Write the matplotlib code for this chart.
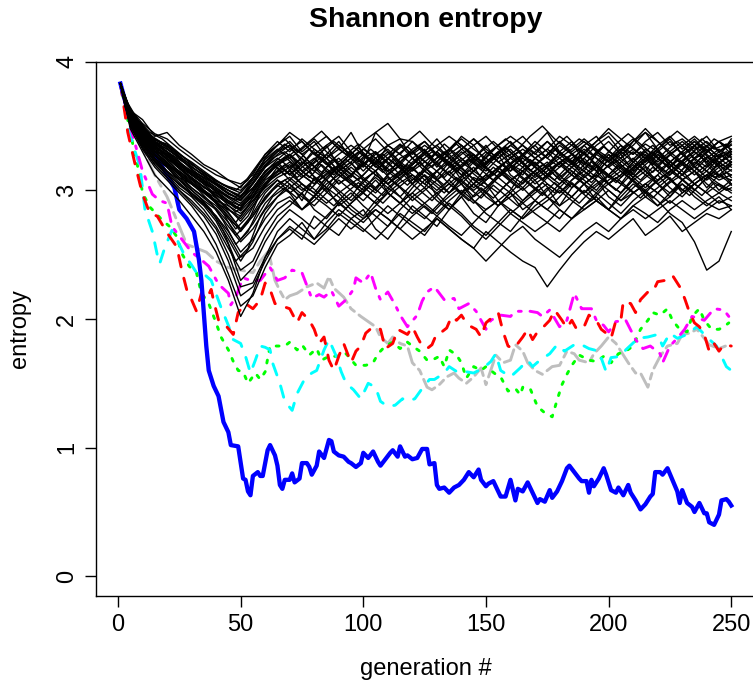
import matplotlib
matplotlib.use("Agg")
import matplotlib.pyplot as plt

plt.rcParams["font.family"] = ["Liberation Sans", "DejaVu Sans"]

gen_grid = [1] + list(range(5, 251, 5))
gen_grid_b = [1, 3] + list(range(8, 249, 5)) + [250]

run_01 = [3.83, 3.58, 3.45, 3.36, 3.30, 3.18, 3.12, 3.05, 3.00, 2.92, 2.85, 2.98, 3.12, 3.20,
          3.28, 3.15, 3.22, 3.35, 3.18, 3.10, 3.25, 3.30, 3.12, 3.20, 3.05, 3.18, 3.30, 3.22, 3.08, 3.15, 3.28, 3.35, 3.20, 3.12,
          3.25, 3.18, 3.30, 3.38, 3.22, 3.15, 3.28, 3.20, 3.12, 3.25, 3.32, 3.18, 3.26, 3.35, 3.20, 3.28, 3.22]
run_02 = [3.83, 3.52, 3.38, 3.25, 3.15, 3.08, 2.98, 2.90, 2.78, 2.62, 2.45, 2.60, 2.82, 2.95,
          3.05, 2.92, 3.10, 3.02, 2.88, 2.95, 3.08, 3.15, 2.98, 2.90, 3.02, 3.12, 2.95, 2.85, 2.98, 3.10, 3.05, 2.92, 3.00, 3.15,
          3.08, 2.95, 2.88, 3.02, 3.12, 3.20, 3.05, 2.98, 3.10, 3.18, 3.05, 2.95, 3.08, 3.15, 3.02, 3.12, 3.08]
run_03 = [3.83, 3.62, 3.55, 3.42, 3.45, 3.35, 3.28, 3.20, 3.15, 3.08, 3.02, 3.15, 3.28, 3.35,
          3.42, 3.30, 3.38, 3.25, 3.32, 3.45, 3.28, 3.20, 3.35, 3.40, 3.25, 3.32, 3.18, 3.30, 3.42, 3.35, 3.22, 3.30, 3.38, 3.28,
          3.35, 3.45, 3.30, 3.22, 3.35, 3.42, 3.30, 3.25, 3.38, 3.45, 3.32, 3.40, 3.28, 3.35, 3.42, 3.30, 3.38]
run_04 = [3.83, 3.48, 3.30, 3.12, 3.02, 2.92, 2.80, 2.68, 2.52, 2.30, 2.02, 2.20, 2.48, 2.62,
          2.70, 2.62, 2.80, 2.72, 2.65, 2.78, 2.85, 2.70, 2.62, 2.75, 2.88, 2.80, 2.72, 2.85, 2.95, 2.82, 2.75, 2.88, 2.98, 2.85,
          2.92, 3.02, 2.88, 2.95, 3.05, 2.92, 2.85, 2.98, 3.08, 2.95, 3.02, 3.10, 2.98, 3.05, 3.12, 3.00, 3.08]
run_05 = [3.83, 3.55, 3.42, 3.30, 3.22, 3.12, 3.05, 2.98, 2.90, 2.85, 2.78, 2.90, 3.05, 3.12,
          3.18, 3.25, 3.10, 3.02, 3.15, 3.22, 3.08, 3.00, 3.12, 3.25, 3.30, 3.18, 3.10, 3.22, 3.15, 3.05, 3.18, 3.28, 3.12, 3.05,
          3.15, 3.22, 3.10, 3.18, 3.30, 3.20, 3.12, 3.05, 3.18, 3.25, 3.15, 3.22, 3.30, 3.18, 3.10, 3.22, 3.28]
run_06 = [3.83, 3.60, 3.48, 3.35, 3.28, 3.20, 3.15, 3.08, 3.02, 2.95, 2.90, 3.00, 3.15, 3.22,
          3.12, 3.20, 3.32, 3.25, 3.15, 3.05, 3.12, 3.22, 3.30, 3.18, 3.10, 3.02, 3.15, 3.25, 3.18, 3.08, 3.02, 3.12, 3.20, 3.28,
          3.18, 3.10, 3.22, 3.15, 3.05, 3.12, 3.25, 3.35, 3.22, 3.15, 3.28, 3.20, 3.12, 3.25, 3.32, 3.22, 3.15]
run_07 = [3.83, 3.50, 3.32, 3.18, 3.08, 2.98, 2.88, 2.75, 2.58, 2.35, 2.10, 2.18, 2.40, 2.58,
          2.65, 2.75, 2.62, 2.70, 2.82, 2.75, 2.68, 2.78, 2.88, 2.80, 2.72, 2.65, 2.78, 2.70, 2.62, 2.55, 2.68, 2.60, 2.52, 2.45,
          2.40, 2.25, 2.38, 2.50, 2.60, 2.68, 2.62, 2.70, 2.78, 2.65, 2.72, 2.80, 2.68, 2.75, 2.82, 2.78, 2.85]
run_08 = [3.83, 3.58, 3.46, 3.38, 3.32, 3.25, 3.18, 3.12, 3.05, 3.00, 2.95, 3.08, 3.22, 3.30,
          3.35, 3.22, 3.15, 3.28, 3.38, 3.25, 3.18, 3.30, 3.22, 3.12, 3.20, 3.30, 3.40, 3.28, 3.18, 3.25, 3.35, 3.22, 3.15, 3.28,
          3.38, 3.30, 3.20, 3.12, 3.25, 3.35, 3.42, 3.30, 3.22, 3.32, 3.25, 3.18, 3.30, 3.38, 3.28, 3.20, 3.32]
run_09 = [3.83, 3.54, 3.40, 3.28, 3.20, 3.15, 3.08, 3.00, 2.92, 2.82, 2.70, 2.82, 2.98, 3.08,
          2.98, 2.85, 2.95, 3.08, 2.98, 2.88, 2.80, 2.92, 3.02, 2.95, 2.85, 2.78, 2.88, 2.98, 3.05, 2.92, 2.82, 2.75, 2.68, 2.80,
          2.92, 2.85, 2.78, 2.90, 3.00, 2.92, 2.85, 2.95, 3.05, 2.98, 2.88, 2.95, 3.05, 2.98, 2.90, 2.85, 2.88]
run_10 = [3.83, 3.62, 3.50, 3.40, 3.35, 3.28, 3.22, 3.15, 3.08, 3.02, 2.98, 3.10, 3.25, 3.35,
          3.45, 3.38, 3.28, 3.35, 3.42, 3.30, 3.22, 3.45, 3.52, 3.40, 3.38, 3.28, 3.35, 3.25, 3.32, 3.40, 3.30, 3.22, 3.28, 3.35,
          3.25, 3.32, 3.42, 3.35, 3.28, 3.38, 3.48, 3.40, 3.32, 3.25, 3.35, 3.42, 3.32, 3.40, 3.30, 3.38, 3.42]
run_11 = [3.83, 3.52, 3.36, 3.22, 3.12, 3.02, 2.95, 2.85, 2.72, 2.55, 2.38, 2.45, 2.65, 2.80,
          2.88, 2.98, 2.85, 2.78, 2.90, 2.98, 2.88, 2.80, 2.72, 2.85, 2.95, 3.02, 2.92, 2.85, 2.95, 3.05, 2.98, 2.88, 2.95, 3.02,
          2.92, 2.85, 2.95, 3.05, 2.98, 3.08, 2.95, 2.88, 2.98, 3.05, 3.12, 3.02, 2.95, 3.05, 3.12, 3.05, 2.98]
run_12 = [3.83, 3.56, 3.44, 3.32, 3.25, 3.18, 3.10, 3.02, 2.98, 2.92, 2.88, 2.95, 3.08, 3.15,
          3.22, 3.12, 3.05, 3.18, 3.25, 3.15, 3.08, 3.15, 3.25, 3.18, 3.08, 3.15, 3.22, 3.12, 3.20, 3.28, 3.18, 3.10, 3.20, 3.15,
          3.05, 3.12, 3.22, 3.28, 3.18, 3.10, 3.20, 3.28, 3.15, 3.22, 3.30, 3.20, 3.12, 3.22, 3.15, 3.25, 3.18]
run_13 = [3.83, 3.60, 3.42, 3.30, 3.28, 3.22, 3.12, 3.05, 2.95, 2.85, 2.80, 2.92, 3.02, 3.10,
          3.15, 3.05, 2.98, 3.10, 3.18, 3.08, 3.00, 3.12, 3.05, 2.95, 3.05, 3.15, 3.08, 2.98, 3.10, 3.18, 3.05, 2.98, 3.08, 3.15,
          3.22, 3.12, 3.05, 3.15, 3.08, 3.00, 3.12, 3.20, 3.10, 3.02, 3.12, 3.22, 3.15, 3.05, 3.12, 3.20, 3.10]
run_14 = [3.83, 3.57, 3.48, 3.38, 3.30, 3.22, 3.15, 3.10, 3.05, 2.98, 2.92, 3.05, 3.18, 3.28,
          3.35, 3.28, 3.18, 3.25, 3.15, 3.22, 3.32, 3.25, 3.15, 3.22, 3.32, 3.38, 3.28, 3.20, 3.30, 3.22, 3.15, 3.25, 3.32, 3.22,
          3.12, 3.20, 3.30, 3.22, 3.15, 3.28, 3.22, 3.32, 3.40, 3.30, 3.22, 3.30, 3.22, 3.15, 3.25, 3.32, 3.25]
run_15 = [3.83, 3.50, 3.34, 3.20, 3.10, 3.00, 2.92, 2.82, 2.70, 2.50, 2.25, 2.28, 2.48, 2.68,
          2.78, 2.70, 2.62, 2.75, 2.85, 2.78, 2.70, 2.62, 2.72, 2.82, 2.75, 2.68, 2.80, 2.90, 2.82, 2.72, 2.65, 2.75, 2.85, 2.78,
          2.88, 2.95, 2.85, 2.78, 2.88, 2.98, 2.90, 2.82, 2.92, 3.00, 2.92, 2.82, 2.75, 2.60, 2.38, 2.45, 2.68]
run_16 = [3.83, 3.55, 3.40, 3.30, 3.20, 3.10, 3.05, 2.98, 2.92, 2.88, 2.82, 2.92, 3.05, 3.18,
          3.08, 3.18, 3.25, 3.15, 3.05, 3.12, 3.22, 3.15, 3.05, 3.12, 3.22, 3.30, 3.20, 3.12, 3.05, 3.15, 3.25, 3.18, 3.08, 3.15,
          3.25, 3.18, 3.08, 3.18, 3.25, 3.15, 3.05, 3.12, 3.22, 3.30, 3.20, 3.12, 3.22, 3.30, 3.22, 3.12, 3.20]
run_17 = [3.83, 3.63, 3.52, 3.44, 3.40, 3.32, 3.25, 3.18, 3.12, 3.08, 3.05, 3.12, 3.28, 3.38,
          3.30, 3.40, 3.32, 3.25, 3.35, 3.28, 3.38, 3.45, 3.35, 3.28, 3.38, 3.30, 3.22, 3.32, 3.40, 3.32, 3.25, 3.35, 3.42, 3.35,
          3.28, 3.38, 3.30, 3.22, 3.30, 3.38, 3.45, 3.35, 3.28, 3.38, 3.45, 3.35, 3.40, 3.32, 3.38, 3.30, 3.36]
run_18 = [3.83, 3.53, 3.38, 3.25, 3.18, 3.08, 3.00, 2.92, 2.85, 2.72, 2.60, 2.70, 2.85, 2.95,
          3.02, 2.95, 2.88, 2.98, 3.08, 3.00, 2.92, 3.02, 3.10, 3.02, 2.92, 3.00, 3.08, 3.15, 3.05, 2.95, 3.02, 3.10, 3.02, 2.92,
          3.00, 3.10, 3.02, 2.95, 3.05, 3.12, 3.05, 2.98, 3.08, 3.15, 3.05, 2.98, 3.08, 3.15, 3.05, 2.98, 3.05]
run_19 = [3.83, 3.58, 3.44, 3.34, 3.26, 3.20, 3.12, 3.06, 3.00, 2.95, 2.92, 3.02, 3.15, 3.22,
          3.28, 3.20, 3.30, 3.22, 3.12, 3.20, 3.28, 3.18, 3.25, 3.35, 3.25, 3.18, 3.25, 3.32, 3.22, 3.15, 3.22, 3.30, 3.20, 3.28,
          3.35, 3.25, 3.18, 3.28, 3.35, 3.25, 3.18, 3.25, 3.32, 3.25, 3.18, 3.28, 3.35, 3.25, 3.18, 3.26, 3.30]
run_20 = [3.83, 3.50, 3.35, 3.22, 3.12, 3.05, 2.98, 2.90, 2.80, 2.68, 2.52, 2.62, 2.78, 2.90,
          2.95, 2.85, 2.92, 3.02, 2.95, 2.85, 2.78, 2.88, 2.98, 2.90, 2.82, 2.90, 2.98, 2.88, 2.80, 2.70, 2.62, 2.72, 2.82, 2.90,
          2.82, 2.75, 2.68, 2.78, 2.88, 2.95, 2.85, 2.78, 2.88, 2.95, 2.88, 2.98, 3.05, 2.95, 2.88, 2.95, 2.85]
run_21 = [3.83, 3.59, 3.46, 3.36, 3.30, 3.24, 3.18, 3.12, 3.05, 3.00, 2.96, 3.05, 3.18, 3.25,
          3.18, 3.10, 3.18, 3.28, 3.20, 3.12, 3.20, 3.12, 3.05, 3.15, 3.25, 3.15, 3.08, 3.18, 3.25, 3.15, 3.08, 3.18, 3.25, 3.18,
          3.10, 3.18, 3.25, 3.18, 3.10, 3.18, 3.28, 3.18, 3.10, 3.20, 3.28, 3.20, 3.12, 3.18, 3.26, 3.18, 3.24]
run_22 = [3.83, 3.56, 3.40, 3.28, 3.20, 3.12, 3.02, 2.95, 2.88, 2.78, 2.70, 2.80, 2.95, 3.05,
          3.10, 3.02, 2.95, 3.05, 3.12, 3.05, 2.98, 3.08, 2.98, 2.90, 2.98, 3.08, 3.15, 3.05, 2.98, 3.05, 2.95, 2.88, 2.98, 3.08,
          3.15, 3.05, 2.98, 3.08, 3.15, 3.08, 3.00, 2.92, 3.02, 3.10, 3.18, 3.08, 3.00, 3.08, 3.15, 3.08, 3.12]
run_23 = [3.83, 3.61, 3.50, 3.38, 3.34, 3.26, 3.20, 3.14, 3.06, 3.00, 2.94, 3.06, 3.20, 3.30,
          3.38, 3.28, 3.35, 3.42, 3.32, 3.25, 3.32, 3.40, 3.30, 3.22, 3.30, 3.38, 3.28, 3.22, 3.32, 3.40, 3.32, 3.25, 3.35, 3.42,
          3.32, 3.25, 3.35, 3.28, 3.20, 3.30, 3.38, 3.28, 3.35, 3.45, 3.38, 3.28, 3.35, 3.42, 3.34, 3.26, 3.40]
run_24 = [3.83, 3.52, 3.37, 3.24, 3.15, 3.06, 2.96, 2.88, 2.76, 2.58, 2.30, 2.40, 2.60, 2.75,
          2.85, 2.78, 2.70, 2.80, 2.90, 2.82, 2.75, 2.85, 2.78, 2.70, 2.80, 2.88, 2.80, 2.72, 2.65, 2.75, 2.85, 2.92, 2.82, 2.75,
          2.68, 2.75, 2.85, 2.78, 2.85, 2.92, 2.85, 2.78, 2.88, 2.82, 2.75, 2.85, 2.92, 2.85, 2.92, 2.98, 2.92]
run_25 = [3.83, 3.57, 3.43, 3.33, 3.27, 3.17, 3.09, 3.03, 2.96, 2.90, 2.86, 2.96, 3.10, 3.20,
          3.25, 3.15, 3.08, 3.00, 3.10, 3.18, 3.10, 3.02, 3.12, 3.20, 3.12, 3.05, 3.15, 3.22, 3.12, 3.02, 3.10, 3.18, 3.10, 3.02,
          3.12, 3.20, 3.12, 3.02, 3.10, 3.18, 3.10, 3.18, 3.25, 3.15, 3.08, 3.15, 3.22, 3.15, 3.08, 3.15, 3.22]
run_26 = [3.83, 3.55, 3.41, 3.31, 3.24, 3.14, 3.06, 3.00, 2.94, 2.86, 2.76, 2.88, 3.00, 3.08,
          3.02, 3.10, 3.18, 3.08, 3.00, 2.92, 3.02, 3.10, 3.02, 3.10, 3.18, 3.08, 3.00, 3.08, 2.98, 2.90, 3.00, 3.10, 3.18, 3.10,
          3.02, 2.95, 3.05, 3.12, 3.05, 2.98, 3.08, 3.15, 3.08, 3.00, 3.08, 3.15, 3.08, 3.00, 3.10, 3.18, 3.05]
run_27 = [3.83, 3.60, 3.47, 3.37, 3.32, 3.26, 3.16, 3.10, 3.04, 2.97, 2.93, 3.02, 3.14, 3.24,
          3.32, 3.38, 3.28, 3.20, 3.28, 3.35, 3.28, 3.20, 3.28, 3.36, 3.28, 3.35, 3.28, 3.20, 3.28, 3.35, 3.42, 3.32, 3.25, 3.32,
          3.25, 3.32, 3.25, 3.32, 3.40, 3.32, 3.25, 3.32, 3.28, 3.36, 3.30, 3.22, 3.30, 3.38, 3.30, 3.38, 3.32]
run_28 = [3.83, 3.51, 3.33, 3.20, 3.10, 3.00, 2.90, 2.80, 2.66, 2.45, 2.18, 2.25, 2.45, 2.62,
          2.72, 2.65, 2.58, 2.68, 2.78, 2.70, 2.78, 2.85, 2.78, 2.70, 2.62, 2.70, 2.78, 2.70, 2.62, 2.55, 2.45, 2.55, 2.65, 2.72,
          2.62, 2.55, 2.48, 2.58, 2.68, 2.75, 2.68, 2.78, 2.85, 2.78, 2.85, 2.92, 2.85, 2.78, 2.85, 2.92, 2.88]
run_29 = [3.83, 3.58, 3.45, 3.35, 3.27, 3.19, 3.13, 3.07, 3.01, 2.94, 2.88, 2.98, 3.12, 3.20,
          3.12, 3.22, 3.15, 3.08, 3.18, 3.25, 3.15, 3.25, 3.32, 3.22, 3.15, 3.22, 3.30, 3.20, 3.12, 3.22, 3.30, 3.22, 3.15, 3.22,
          3.30, 3.38, 3.28, 3.20, 3.28, 3.20, 3.12, 3.22, 3.30, 3.22, 3.30, 3.38, 3.28, 3.20, 3.30, 3.38, 3.28]
run_30 = [3.83, 3.54, 3.39, 3.27, 3.19, 3.10, 3.02, 2.94, 2.86, 2.75, 2.62, 2.74, 2.90, 3.00,
          3.08, 3.00, 3.08, 3.15, 3.05, 3.12, 3.05, 2.98, 3.08, 3.15, 3.05, 3.12, 3.05, 2.98, 3.08, 3.00, 3.08, 3.15, 3.08, 3.00,
          3.08, 3.15, 3.22, 3.12, 3.05, 3.12, 3.05, 3.12, 3.20, 3.12, 3.05, 3.12, 3.20, 3.12, 3.20, 3.10, 3.16]
run_31 = [3.83, 3.62, 3.49, 3.39, 3.36, 3.28, 3.21, 3.13, 3.07, 3.03, 3.00, 3.10, 3.24, 3.32,
          3.25, 3.32, 3.40, 3.30, 3.22, 3.30, 3.20, 3.28, 3.35, 3.28, 3.20, 3.28, 3.35, 3.42, 3.35, 3.28, 3.20, 3.28, 3.35, 3.28,
          3.20, 3.28, 3.38, 3.30, 3.38, 3.30, 3.22, 3.30, 3.38, 3.48, 3.38, 3.30, 3.38, 3.30, 3.22, 3.30, 3.35]
run_32 = [3.83, 3.53, 3.36, 3.23, 3.14, 3.04, 2.97, 2.89, 2.80, 2.65, 2.48, 2.55, 2.72, 2.85,
          2.92, 2.85, 2.95, 2.88, 2.80, 2.90, 2.98, 2.90, 2.82, 2.90, 2.98, 2.90, 2.82, 2.92, 3.00, 2.92, 2.85, 2.92, 2.85, 2.78,
          2.85, 2.92, 3.00, 2.92, 2.85, 2.92, 3.00, 2.92, 2.98, 3.05, 2.98, 2.90, 2.98, 3.05, 2.98, 2.90, 2.95]
run_33 = [3.83, 3.57, 3.44, 3.34, 3.28, 3.20, 3.14, 3.08, 2.99, 2.91, 2.84, 2.94, 3.06, 3.14,
          3.20, 3.12, 3.05, 3.12, 3.20, 3.28, 3.20, 3.12, 3.05, 3.12, 3.20, 3.28, 3.20, 3.28, 3.35, 3.25, 3.18, 3.10, 3.18, 3.25,
          3.18, 3.10, 3.18, 3.25, 3.32, 3.25, 3.18, 3.10, 3.18, 3.28, 3.20, 3.28, 3.20, 3.28, 3.35, 3.25, 3.30]
run_34 = [3.83, 3.55, 3.42, 3.30, 3.22, 3.13, 3.05, 2.99, 2.91, 2.80, 2.68, 2.80, 2.94, 3.04,
          2.98, 3.05, 2.98, 2.90, 2.98, 3.05, 2.98, 2.90, 2.98, 3.06, 3.12, 3.05, 2.98, 3.05, 2.98, 3.05, 3.12, 3.05, 2.98, 2.90,
          2.98, 3.05, 2.98, 3.06, 2.98, 3.05, 3.12, 3.05, 2.98, 3.05, 2.98, 3.06, 3.12, 3.05, 2.98, 3.05, 3.00]

# runs read on the offset grid (gen_grid_b)
run_b01 = [3.83, 3.66, 3.47, 3.35, 3.28, 3.20, 3.12, 3.04, 2.95, 2.82, 2.65, 2.75, 2.98, 3.12,
           3.20, 3.10, 3.18, 3.26, 3.15, 3.08, 3.18, 3.25, 3.15, 3.05, 3.14, 3.22, 3.12, 3.04, 3.15, 3.24, 3.16, 3.08, 3.18, 3.26,
           3.16, 3.08, 3.18, 3.25, 3.15, 3.06, 3.16, 3.24, 3.14, 3.22, 3.30, 3.20, 3.12, 3.22, 3.28, 3.18, 3.25, 3.20]
run_b02 = [3.83, 3.70, 3.52, 3.42, 3.36, 3.28, 3.20, 3.12, 3.05, 2.98, 2.92, 3.00, 3.15, 3.25,
           3.30, 3.22, 3.32, 3.24, 3.15, 3.25, 3.33, 3.24, 3.16, 3.26, 3.34, 3.25, 3.18, 3.28, 3.36, 3.27, 3.18, 3.26, 3.33, 3.24,
           3.15, 3.24, 3.32, 3.25, 3.16, 3.26, 3.34, 3.26, 3.18, 3.27, 3.35, 3.26, 3.18, 3.28, 3.35, 3.26, 3.30, 3.26]
run_b03 = [3.83, 3.64, 3.44, 3.30, 3.22, 3.12, 3.04, 2.95, 2.85, 2.68, 2.45, 2.55, 2.80, 2.95,
           3.02, 2.94, 3.04, 2.96, 2.88, 2.98, 3.06, 2.98, 2.90, 3.00, 3.08, 3.00, 2.92, 3.02, 3.10, 3.02, 2.94, 3.04, 2.96, 2.88,
           2.98, 3.06, 2.98, 3.08, 3.00, 2.92, 3.02, 3.10, 3.02, 2.94, 3.04, 3.12, 3.04, 2.96, 3.06, 3.14, 3.08, 3.04]
run_b04 = [3.83, 3.69, 3.53, 3.40, 3.33, 3.26, 3.17, 3.10, 3.02, 2.93, 2.86, 2.95, 3.10, 3.20,
           3.12, 3.22, 3.14, 3.06, 3.16, 3.24, 3.16, 3.26, 3.18, 3.10, 3.20, 3.12, 3.22, 3.30, 3.20, 3.12, 3.04, 3.14, 3.22, 3.14,
           3.24, 3.16, 3.08, 3.18, 3.26, 3.18, 3.28, 3.20, 3.12, 3.22, 3.14, 3.24, 3.32, 3.22, 3.14, 3.24, 3.18, 3.22]
run_b05 = [3.83, 3.67, 3.49, 3.37, 3.30, 3.22, 3.13, 3.06, 2.98, 2.88, 2.75, 2.88, 3.05, 3.16,
           3.24, 3.32, 3.22, 3.14, 3.24, 3.16, 3.08, 3.18, 3.28, 3.20, 3.12, 3.22, 3.30, 3.22, 3.14, 3.24, 3.16, 3.26, 3.34, 3.24,
           3.16, 3.08, 3.18, 3.26, 3.18, 3.10, 3.20, 3.28, 3.20, 3.30, 3.22, 3.14, 3.24, 3.16, 3.26, 3.34, 3.24, 3.28]
run_b06 = [3.83, 3.71, 3.55, 3.45, 3.40, 3.32, 3.24, 3.16, 3.10, 3.04, 3.00, 3.08, 3.22, 3.32,
           3.40, 3.30, 3.38, 3.46, 3.36, 3.28, 3.36, 3.28, 3.20, 3.30, 3.38, 3.46, 3.36, 3.28, 3.38, 3.30, 3.22, 3.32, 3.40, 3.32,
           3.42, 3.50, 3.40, 3.32, 3.40, 3.34, 3.26, 3.36, 3.44, 3.36, 3.28, 3.38, 3.46, 3.38, 3.30, 3.40, 3.34, 3.38]
run_b07 = [3.83, 3.65, 3.46, 3.33, 3.25, 3.16, 3.08, 3.00, 2.90, 2.76, 2.58, 2.68, 2.88, 3.00,
           3.08, 3.00, 2.92, 3.02, 2.94, 2.86, 2.96, 3.04, 2.96, 3.06, 2.98, 2.90, 2.82, 2.92, 3.00, 2.92, 3.02, 2.94, 3.04, 3.12,
           3.04, 2.96, 3.06, 2.98, 2.90, 3.00, 3.08, 3.00, 3.10, 3.02, 2.94, 3.04, 3.12, 3.04, 2.96, 3.06, 3.00, 3.02]
run_b08 = [3.83, 3.68, 3.51, 3.39, 3.32, 3.24, 3.16, 3.08, 3.00, 2.92, 2.83, 2.92, 3.08, 3.18,
           3.26, 3.18, 3.10, 3.20, 3.12, 3.22, 3.30, 3.22, 3.14, 3.24, 3.16, 3.26, 3.18, 3.10, 3.20, 3.28, 3.20, 3.12, 3.22, 3.30,
           3.22, 3.14, 3.24, 3.32, 3.24, 3.16, 3.26, 3.18, 3.10, 3.20, 3.28, 3.20, 3.12, 3.22, 3.30, 3.22, 3.16, 3.20]
run_b09 = [3.83, 3.66, 3.48, 3.36, 3.27, 3.18, 3.10, 3.02, 2.94, 2.84, 2.70, 2.80, 2.98, 3.10,
           3.16, 3.08, 3.00, 3.10, 3.18, 3.10, 3.02, 3.12, 3.20, 3.12, 3.04, 3.14, 3.06, 2.98, 3.08, 3.16, 3.08, 3.18, 3.10, 3.02,
           3.12, 3.20, 3.12, 3.04, 3.14, 3.22, 3.14, 3.06, 3.16, 3.08, 3.18, 3.10, 3.20, 3.28, 3.18, 3.10, 3.14, 3.12]
run_b10 = [3.83, 3.70, 3.54, 3.43, 3.37, 3.30, 3.22, 3.14, 3.07, 3.00, 2.95, 3.04, 3.18, 3.28,
           3.36, 3.28, 3.20, 3.30, 3.38, 3.30, 3.22, 3.32, 3.24, 3.16, 3.26, 3.34, 3.26, 3.36, 3.28, 3.20, 3.30, 3.38, 3.30, 3.22,
           3.32, 3.24, 3.34, 3.42, 3.32, 3.24, 3.34, 3.26, 3.36, 3.28, 3.20, 3.30, 3.38, 3.30, 3.40, 3.32, 3.36, 3.30]

black_runs = [run_01, run_02, run_03, run_04, run_05, run_06, run_07, run_08, run_09, run_10,
              run_11, run_12, run_13, run_14, run_15, run_16, run_17, run_18, run_19, run_20,
              run_21, run_22, run_23, run_24, run_25, run_26, run_27, run_28, run_29, run_30,
              run_31, run_32, run_33, run_34]
black_runs_b = [run_b01, run_b02, run_b03, run_b04, run_b05, run_b06, run_b07, run_b08, run_b09, run_b10]

gray_gen = [1, 5, 10, 15, 20, 25, 28, 32, 36, 40, 45, 50, 55, 58, 61, 62, 64, 66, 68, 70, 73, 77, 81, 84, 86, 88,
            92, 95, 99, 102, 105, 107, 110, 112, 115, 118, 120, 123, 126, 128, 131, 134, 137, 139, 142, 145, 148,
            150, 153, 154, 157, 160, 162, 165, 167, 170, 173, 177, 180, 183, 186, 188, 192, 194, 197, 200, 203,
            205, 208, 211, 213, 216, 218, 221, 224, 228, 230, 233, 236, 239, 241, 245, 249]
gray_val = [3.83, 3.55, 3.32, 3.12, 2.95, 2.72, 2.58, 2.55, 2.52, 2.45, 2.40, 2.38, 2.36, 2.45, 2.52, 2.47, 2.30,
            2.22, 2.15, 2.18, 2.20, 2.25, 2.28, 2.24, 2.33, 2.24, 2.17, 2.08, 2.02, 1.98, 1.94, 1.86, 1.81, 1.86,
            1.81, 1.79, 1.66, 1.60, 1.47, 1.45, 1.49, 1.55, 1.58, 1.54, 1.50, 1.55, 1.62, 1.49, 1.66, 1.72, 1.66,
            1.68, 1.80, 1.75, 1.66, 1.60, 1.57, 1.63, 1.64, 1.75, 1.73, 1.68, 1.66, 1.73, 1.79, 1.86, 1.81, 1.75,
            1.66, 1.58, 1.58, 1.47, 1.60, 1.71, 1.79, 1.81, 1.88, 1.89, 1.92, 1.85, 1.80, 1.77, 1.80]

green_gen = [1, 5, 9, 10, 13, 15, 18, 21, 24, 26, 29, 32, 34, 37, 40, 42, 45, 47, 49, 51, 53, 56, 58, 60, 62, 65,
             68, 70, 73, 75, 78, 81, 83, 86, 89, 93, 97, 101, 104, 106, 109, 112, 115, 118, 120, 123, 126, 128,
             131, 133, 135, 138, 140, 142, 145, 148, 150, 154, 156, 159, 162, 164, 165, 168, 171, 174, 177, 179,
             181, 183, 185, 188, 192, 195, 198, 201, 204, 207, 210, 213, 216, 218, 221, 224, 226, 229, 232, 234,
             237, 239, 242, 245, 247, 249]
green_val = [3.83, 3.45, 3.10, 2.98, 2.87, 2.83, 2.77, 2.72, 2.64, 2.51, 2.41, 2.36, 2.20, 2.12, 1.97, 1.86, 1.76,
             1.67, 1.60, 1.59, 1.50, 1.58, 1.53, 1.59, 1.79, 1.79, 1.79, 1.82, 1.76, 1.80, 1.72, 1.77, 1.68, 1.71,
             1.71, 1.73, 1.64, 1.64, 1.66, 1.73, 1.79, 1.82, 1.77, 1.82, 1.79, 1.75, 1.68, 1.68, 1.71, 1.63, 1.76,
             1.72, 1.66, 1.54, 1.63, 1.60, 1.63, 1.57, 1.55, 1.44, 1.46, 1.41, 1.47, 1.46, 1.32, 1.27, 1.24, 1.37,
             1.49, 1.57, 1.64, 1.72, 1.68, 1.67, 1.71, 1.66, 1.73, 1.75, 1.79, 1.92, 1.99, 2.05, 2.03, 2.08, 1.99,
             1.92, 1.90, 2.02, 2.08, 1.99, 1.92, 1.92, 1.94, 1.97]

cyan_gen = [1, 4, 7, 9, 11, 14, 16, 17, 19, 22, 24, 27, 30, 32, 35, 38, 42, 45, 47, 50, 52, 54, 56, 58, 60, 62,
            63, 66, 68, 71, 73, 76, 79, 81, 84, 86, 89, 91, 93, 96, 99, 102, 105, 107, 110, 113, 116, 118, 121,
            124, 127, 129, 133, 135, 139, 142, 145, 149, 152, 154, 156, 160, 164, 167, 169, 172, 176, 179, 182,
            186, 188, 192, 196, 199, 201, 205, 207, 212, 216, 220, 222, 225, 228, 232, 236, 240, 244, 248, 250]
cyan_val = [3.83, 3.50, 3.30, 3.18, 2.85, 2.68, 2.50, 2.43, 2.55, 2.69, 2.62, 2.50, 2.42, 2.36, 2.35, 2.30, 2.09,
            1.95, 1.84, 1.81, 1.71, 1.58, 1.68, 1.79, 1.78, 1.76, 1.66, 1.50, 1.36, 1.29, 1.42, 1.53, 1.58, 1.60,
            1.76, 1.84, 1.71, 1.59, 1.50, 1.45, 1.38, 1.50, 1.47, 1.36, 1.32, 1.33, 1.38, 1.36, 1.38, 1.46, 1.53,
            1.53, 1.58, 1.63, 1.58, 1.59, 1.58, 1.62, 1.67, 1.73, 1.60, 1.55, 1.62, 1.68, 1.63, 1.68, 1.73, 1.80,
            1.75, 1.80, 1.81, 1.77, 1.75, 1.59, 1.70, 1.71, 1.76, 1.85, 1.86, 1.88, 1.79, 1.89, 1.85, 1.88, 1.94,
            1.86, 1.79, 1.63, 1.60]

magenta_gen = [1, 5, 10, 14, 17, 20, 22, 26, 30, 34, 37, 41, 45, 46, 48, 51, 54, 58, 62, 65, 68, 71, 75, 79, 82,
               84, 87, 90, 93, 96, 97, 100, 103, 105, 107, 110, 113, 115, 118, 122, 124, 126, 129, 133, 137, 139,
               143, 146, 150, 152, 156, 160, 162, 165, 168, 171, 173, 176, 180, 183, 186, 189, 193, 195, 198, 200,
               203, 207, 211, 214, 217, 221, 222, 225, 228, 231, 234, 239, 243, 247, 249]
magenta_val = [3.83, 3.50, 3.15, 2.97, 2.92, 2.90, 2.72, 2.62, 2.52, 2.46, 2.41, 2.27, 2.20, 2.11, 2.17, 2.32,
               2.30, 2.30, 2.40, 2.30, 2.32, 2.38, 2.36, 2.16, 2.19, 2.17, 2.22, 2.10, 2.15, 2.23, 2.32, 2.28, 2.36,
               2.24, 2.15, 2.21, 2.11, 2.03, 1.94, 2.03, 2.14, 2.21, 2.25, 2.15, 2.16, 2.08, 2.12, 2.06, 1.92, 1.99,
               2.03, 2.02, 2.06, 2.06, 2.06, 2.05, 2.02, 2.07, 1.94, 1.99, 2.20, 2.08, 2.08, 1.99, 1.95, 1.90, 1.98,
               1.99, 1.84, 1.77, 1.79, 1.73, 1.66, 1.79, 1.85, 1.92, 2.02, 1.99, 2.08, 2.07, 2.02]

red_gen = [1, 4, 7, 10, 13, 16, 20, 24, 26, 28, 30, 32, 34, 36, 38, 39, 41, 43, 47, 49, 52, 55, 58, 60, 62, 64,
           67, 70, 73, 75, 78, 80, 82, 84, 86, 88, 90, 92, 94, 95, 97, 99, 101, 104, 107, 109, 112, 114, 118,
           120, 122, 124, 126, 128, 130, 132, 134, 136, 138, 140, 142, 144, 146, 148, 150, 153, 155, 157, 159,
           161, 163, 165, 167, 169, 171, 173, 176, 178, 181, 183, 185, 187, 190, 192, 195, 197, 199, 201, 203,
           205, 206, 209, 211, 213, 216, 218, 220, 223, 226, 229, 231, 233, 235, 237, 239, 241, 243, 245, 247, 250]
red_val = [3.83, 3.45, 3.20, 2.97, 2.82, 2.80, 2.67, 2.56, 2.38, 2.23, 2.15, 2.06, 2.20, 2.15, 2.23, 2.14, 1.99,
           1.97, 1.88, 2.05, 2.12, 2.08, 2.15, 2.28, 2.23, 2.12, 2.10, 2.08, 1.97, 2.05, 1.99, 1.92, 1.81, 1.86,
           1.68, 1.60, 1.71, 1.81, 1.71, 1.66, 1.75, 1.79, 1.89, 1.94, 1.92, 1.77, 1.81, 1.92, 1.88, 1.94, 1.86,
           1.79, 1.77, 1.80, 1.89, 1.90, 1.93, 2.02, 1.99, 2.03, 1.97, 1.94, 1.92, 1.86, 1.97, 2.02, 2.05, 1.90,
           1.79, 1.77, 1.81, 1.86, 1.92, 1.84, 1.90, 1.93, 1.99, 2.07, 1.99, 1.93, 1.99, 1.92, 1.94, 2.03, 1.99,
           1.92, 1.89, 1.85, 1.99, 1.99, 2.14, 2.12, 2.05, 2.15, 2.21, 2.21, 2.29, 2.30, 2.34, 2.25, 2.16, 2.05,
           1.97, 1.94, 1.88, 1.75, 1.81, 1.75, 1.80, 1.79]

blue_gen = [1, 5, 10, 15, 20, 23, 25, 28, 31, 33, 34, 35, 36, 37, 39, 41, 43, 45, 46, 49, 51, 52, 53, 54, 55, 57,
            58, 59, 61, 62, 64, 65, 66, 67, 68, 70, 71, 72, 74, 75, 77, 78, 79, 81, 82, 84, 86, 87, 88, 90, 92, 94,
            95, 97, 99, 100, 102, 104, 106, 107, 109, 111, 112, 114, 115, 117, 118, 120, 122, 124, 126, 127, 129,
            130, 131, 133, 135, 137, 139, 141, 143, 145, 147, 148, 150, 151, 153, 155, 156, 158, 160, 162, 163,
            165, 167, 169, 171, 172, 174, 176, 177, 179, 181, 183, 184, 186, 188, 189, 191, 192, 193, 194, 196,
            198, 199, 201, 203, 204, 206, 208, 209, 211, 213, 215, 217, 218, 219, 221, 222, 224, 226, 228, 229,
            230, 232, 234, 235, 237, 239, 240, 241, 243, 245, 246, 248, 249, 250]
blue_val = [3.83, 3.55, 3.38, 3.28, 3.12, 3.02, 2.85, 2.78, 2.68, 2.46, 2.30, 2.05, 1.79, 1.60, 1.48, 1.40, 1.20,
            1.12, 1.02, 1.01, 0.76, 0.75, 0.66, 0.63, 0.78, 0.81, 0.78, 0.78, 0.98, 1.02, 0.94, 0.86, 0.71, 0.68,
            0.75, 0.75, 0.80, 0.73, 0.76, 0.88, 0.88, 0.85, 0.79, 0.86, 0.97, 0.92, 1.06, 1.05, 0.97, 0.94, 0.93,
            0.89, 0.88, 0.85, 0.88, 0.96, 0.92, 0.97, 0.89, 0.86, 0.91, 0.96, 0.98, 0.93, 1.01, 0.93, 0.94, 0.91,
            0.92, 0.99, 0.99, 0.87, 0.88, 0.71, 0.68, 0.69, 0.65, 0.69, 0.71, 0.75, 0.81, 0.77, 0.83, 0.75, 0.70,
            0.72, 0.74, 0.66, 0.62, 0.62, 0.75, 0.59, 0.68, 0.66, 0.73, 0.65, 0.57, 0.60, 0.58, 0.67, 0.61, 0.66,
            0.74, 0.84, 0.86, 0.81, 0.76, 0.74, 0.74, 0.65, 0.75, 0.70, 0.76, 0.84, 0.79, 0.67, 0.65, 0.69, 0.63,
            0.71, 0.65, 0.59, 0.52, 0.56, 0.62, 0.64, 0.81, 0.81, 0.79, 0.84, 0.75, 0.66, 0.57, 0.67, 0.57, 0.54,
            0.50, 0.57, 0.49, 0.49, 0.42, 0.40, 0.48, 0.59, 0.60, 0.58, 0.55]

for run in black_runs:
    assert len(run) == len(gen_grid)
for run in black_runs_b:
    assert len(run) == len(gen_grid_b)
for g, v in [(gray_gen, gray_val), (green_gen, green_val), (cyan_gen, cyan_val),
             (magenta_gen, magenta_val), (red_gen, red_val), (blue_gen, blue_val)]:
    assert len(g) == len(v), (len(g), len(v))

fig = plt.figure(figsize=(7.53, 6.84), dpi=100)
ax = fig.add_axes([96 / 753, 88 / 684, 659.7 / 753, 534.3 / 684])

# coloured runs first, the black ones go over them
ax.plot(gray_gen, gray_val, color="#bebebe", lw=2.1, dashes=(2, 2, 6, 2), dash_capstyle="round", zorder=2)
ax.plot(green_gen, green_val, color="#00ff00", lw=2.1, dashes=(1, 3), dash_capstyle="round", zorder=2)
ax.plot(cyan_gen, cyan_val, color="#00ffff", lw=2.1, dashes=(4, 4), dash_capstyle="round", zorder=2)
ax.plot(magenta_gen, magenta_val, color="#ff00ff", lw=2.1, dashes=(1, 3, 4, 3), dash_capstyle="round", zorder=2)
ax.plot(red_gen, red_val, color="#ff0000", lw=2.1, dashes=(4, 4), dash_capstyle="round", zorder=2)
ax.plot(blue_gen, blue_val, color="#0000ff", lw=3.1, solid_joinstyle="round", zorder=2)

for run in black_runs:
    ax.plot(gen_grid, run, color="black", lw=1.0, solid_joinstyle="round", zorder=3)
for run in black_runs_b:
    ax.plot(gen_grid_b, run, color="black", lw=1.0, solid_joinstyle="round", zorder=3)

ax.set_xlim(-8.96, 259.96)
ax.set_ylim(-0.153, 4.0)
ax.set_xticks([0, 50, 100, 150, 200, 250])
ax.set_yticks([0, 1, 2, 3, 4])
ax.tick_params(direction="out", length=7.9, width=1.0, labelsize=17, pad=5)
ax.tick_params(axis="y", labelrotation=90)
for lab in ax.get_yticklabels():
    lab.set_va("center")
for sp in ax.spines.values():
    sp.set_linewidth(1.0)

fig.text(425.9 / 753, 1 - 27 / 684, "Shannon entropy", ha="center", va="baseline",
         fontsize=20.4, fontweight="bold")
fig.text(425.9 / 753, 1 - 675 / 684, "generation #", ha="center", va="baseline", fontsize=17)
fig.text(20 / 753, 1 - 329 / 684, "entropy", ha="center", va="center", rotation=90, fontsize=17)

fig.savefig("out.png", dpi=100)
